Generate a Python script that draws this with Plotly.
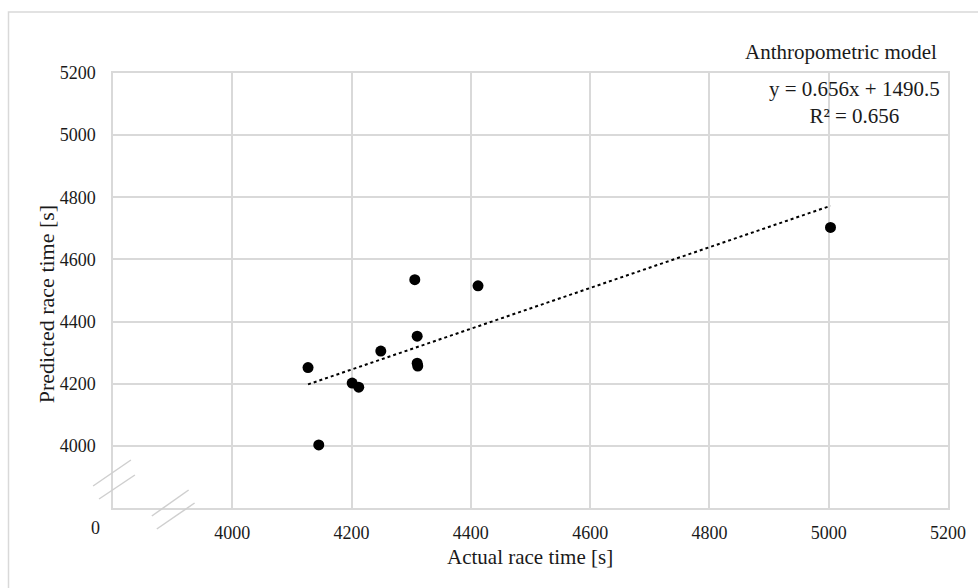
import plotly.graph_objects as go

# values
actual = [4127, 4145, 4201, 4212, 4249, 4306, 4310, 4310, 4311, 4412, 5003]
predicted = [4252, 4003, 4202, 4189, 4305, 4535, 4353, 4266, 4257, 4515, 4703]
slope, intercept, r2 = 0.656, 1490.5, 0.656
tick_vals = [4000, 4200, 4400, 4600, 4800, 5000, 5200]
axis_min, axis_max = 3800, 5200

W, H = 978, 588
L, R, T, B = 113, 26, 73, 80
pw, ph = W - L - R, H - T - B


def px(x):
    return (x - L) / pw


def py(y):
    return (H - B - y) / ph


font = "Liberation Serif, Times New Roman, serif"
grid = "#d9d9d9"

trend_x = [min(actual), max(actual)]
trend_y = [slope * v + intercept for v in trend_x]

fig = go.Figure()
fig.add_trace(go.Scatter(x=trend_x, y=trend_y, mode="lines",
                         line=dict(color="black", width=2, dash="dot"),
                         hoverinfo="skip"))
fig.add_trace(go.Scatter(x=actual, y=predicted, mode="markers",
                         marker=dict(color="black", size=11)))

axis_style = dict(range=[axis_min, axis_max], tickvals=tick_vals,
                  showgrid=True, gridcolor=grid, gridwidth=1.5,
                  zeroline=False, showline=True, linecolor=grid, linewidth=1.5,
                  mirror=True, ticks="", tickfont=dict(family=font, size=18, color="#1a1a1a"))
fig.update_xaxes(**axis_style, ticklabelstandoff=8)
fig.update_yaxes(**axis_style, ticklabelstandoff=12)

fig.update_layout(
    width=W, height=H, showlegend=False,
    margin=dict(l=L, r=R, t=T, b=B),
    paper_bgcolor="white", plot_bgcolor="white",
    font=dict(family=font, color="#262626"),
)

ann = [
    dict(text="Anthropometric model", x=px(844), y=py(52), size=21),
    dict(text=f"y = {slope}x + {intercept}<br>R² = {r2}", x=px(858), y=py(102), size=21),
    dict(text="Actual race time [s]", x=px(532), y=py(557), size=21),
    dict(text="0", x=px(95), y=py(528), size=18),
]
for a in ann:
    fig.add_annotation(text=a["text"], x=a["x"], y=a["y"], xref="paper", yref="paper",
                       showarrow=False, xanchor="center", yanchor="middle",
                       font=dict(family=font, size=a["size"], color="#1a1a1a"))
fig.add_annotation(text="Predicted race time [s]", x=px(46), y=py(304), xref="paper", yref="paper",
                   showarrow=False, textangle=-90, xanchor="center", yanchor="middle",
                   font=dict(family=font, size=22, color="#1a1a1a"))

# chart border and axis break marks
fig.add_shape(type="rect", xref="paper", yref="paper", x0=px(8), y0=py(640), x1=px(1000), y1=py(12),
              line=dict(color=grid, width=1.5), fillcolor="rgba(0,0,0,0)", layer="below")
breaks = [((93, 486), (131, 460)), ((99, 499), (135, 475)),
          ((152, 516), (189, 490)), ((157, 529), (195, 503))]
for (xa, ya), (xb, yb) in breaks:
    fig.add_shape(type="line", xref="paper", yref="paper", x0=px(xa), y0=py(ya), x1=px(xb), y1=py(yb),
                  line=dict(color="#cfcfcf", width=1.5))

# drop the page's default body margin so the figure sits at the window origin
fig.write_html("out.html", config={"displayModeBar": False},
               post_script="document.body.style.margin='0px';")
